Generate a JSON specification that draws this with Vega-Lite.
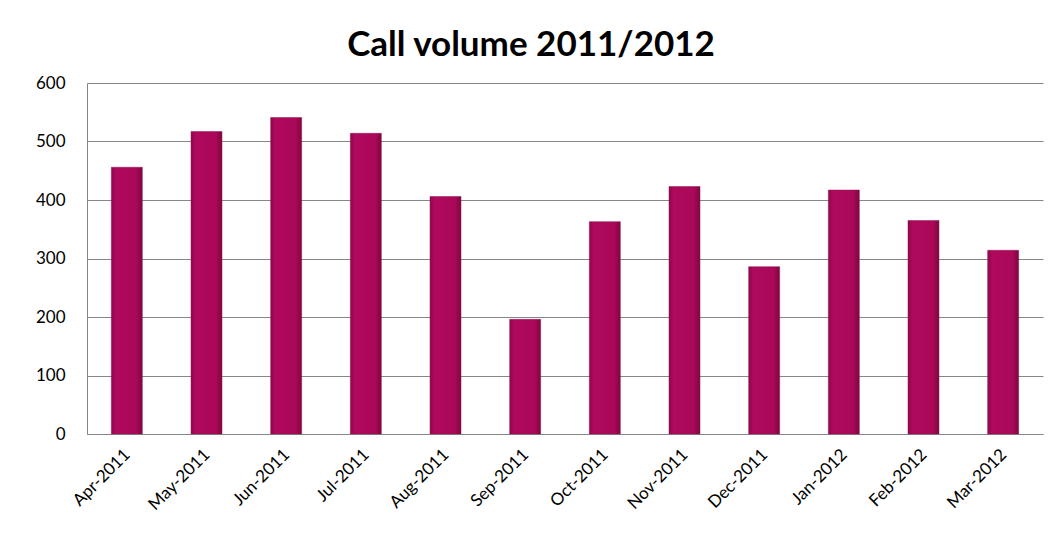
{
  "$schema": "https://vega.github.io/schema/vega-lite/v6.json",
  "width": 956,
  "height": 351,
  "autosize": {"type": "none"},
  "padding": {"left": 87, "top": 83, "right": 18, "bottom": 109},
  "background": "white",
  "title": {
    "text": "Call volume 2011/2012",
    "font": "Lato",
    "fontWeight": "bold",
    "fontSize": 35,
    "color": "#000000",
    "anchor": "middle",
    "frame": "group",
    "dx": -34,
    "offset": 11
  },
  "data": {
    "values": [
      {"month": "Apr-2011", "calls": 456},
      {"month": "May-2011", "calls": 517},
      {"month": "Jun-2011", "calls": 541},
      {"month": "Jul-2011", "calls": 514},
      {"month": "Aug-2011", "calls": 406},
      {"month": "Sep-2011", "calls": 196},
      {"month": "Oct-2011", "calls": 363},
      {"month": "Nov-2011", "calls": 423},
      {"month": "Dec-2011", "calls": 286},
      {"month": "Jan-2012", "calls": 417},
      {"month": "Feb-2012", "calls": 365},
      {"month": "Mar-2012", "calls": 314}
    ]
  },
  "mark": {
    "type": "bar",
    "size": 31,
    "color": {
      "gradient": "linear",
      "x1": 0, "y1": 0, "x2": 1, "y2": 0,
      "stops": [
        {"offset": 0, "color": "#8e0749"},
        {"offset": 0.15, "color": "#b0095d"},
        {"offset": 0.8, "color": "#aa0859"},
        {"offset": 1, "color": "#7e0640"}
      ]
    },
    "stroke": "#8a1a52",
    "strokeWidth": 0.5
  },
  "encoding": {
    "x": {
      "field": "month",
      "type": "nominal",
      "sort": null,
      "scale": {"paddingInner": 0, "paddingOuter": 0},
      "axis": {
        "title": null,
        "labelAngle": -45,
        "labelFont": "Lato",
        "labelFontSize": 17,
        "labelColor": "#000000",
        "ticks": false,
        "labelPadding": 12,
        "labelOffset": -5,
        "domainColor": "#868686",
        "domainWidth": 1,
        "grid": false
      }
    },
    "y": {
      "field": "calls",
      "type": "quantitative",
      "scale": {"domain": [0, 600]},
      "axis": {
        "title": null,
        "values": [0, 100, 200, 300, 400, 500, 600],
        "labelFont": "Lato",
        "labelFontSize": 17,
        "labelColor": "#000000",
        "labelPadding": 22,
        "ticks": false,
        "domainColor": "#868686",
        "domainWidth": 1,
        "grid": true,
        "gridColor": "#868686",
        "gridWidth": 1
      }
    }
  },
  "config": {
    "view": {"stroke": null}
  }
}
